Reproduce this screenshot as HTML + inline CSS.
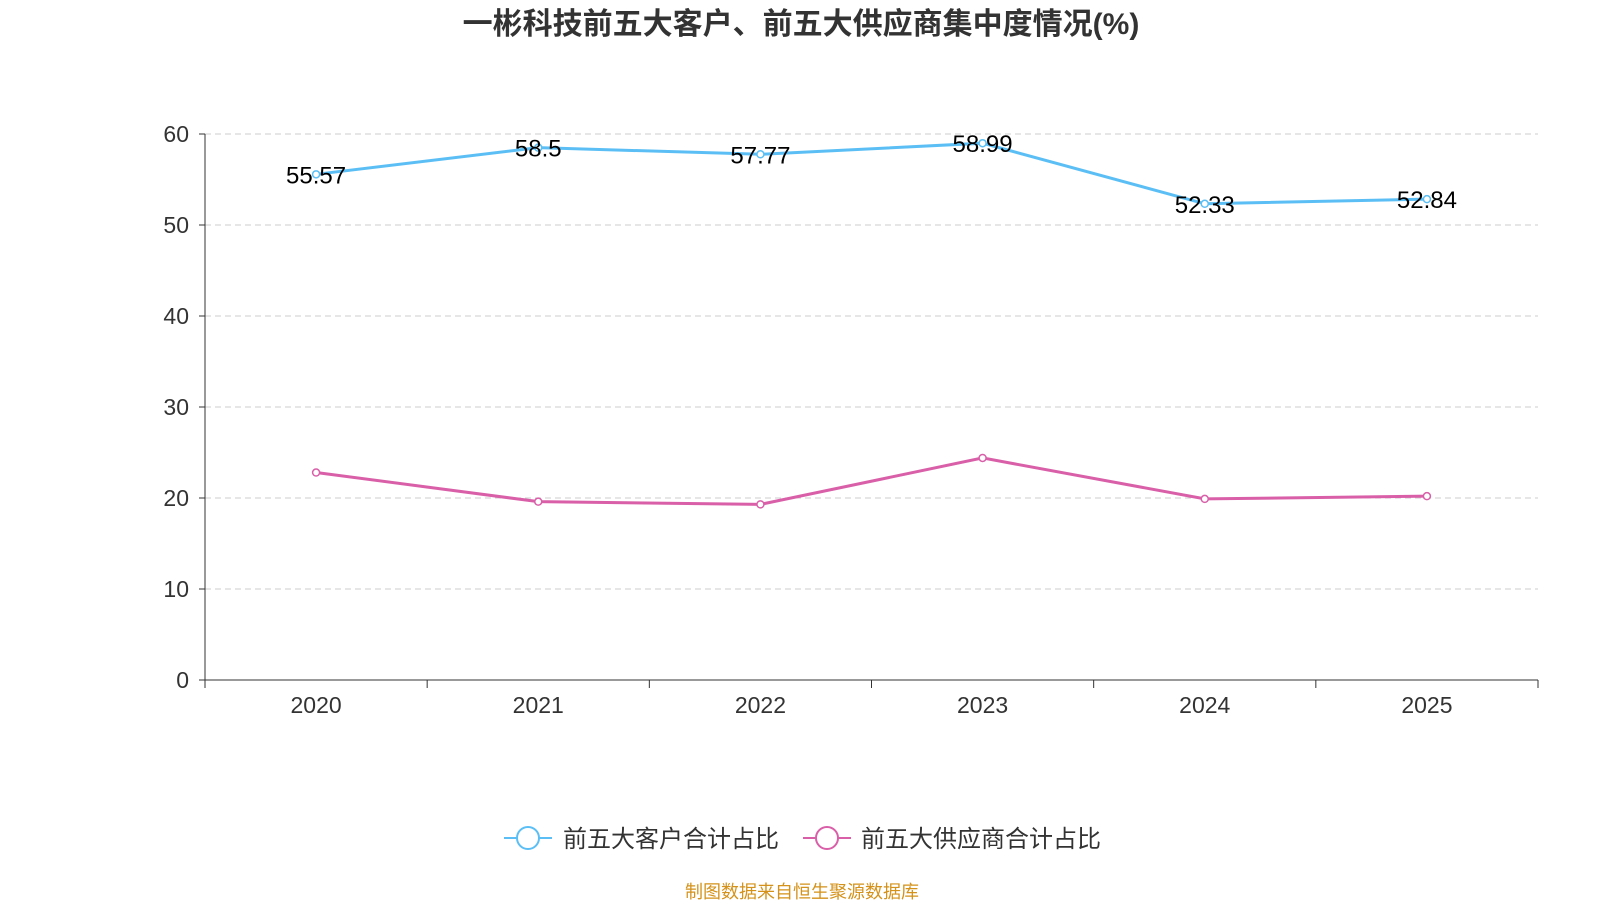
<!DOCTYPE html>
<html><head><meta charset="utf-8"><style>
body{margin:0;background:#fff;width:1600px;height:900px;overflow:hidden;font-family:"Liberation Sans","Noto Sans CJK SC",sans-serif}
</style></head><body>
<svg width="1600" height="900" font-family="'Liberation Sans','Noto Sans CJK SC',sans-serif">
<text x="801" y="34" text-anchor="middle" font-size="30" font-weight="bold" fill="#333">一彬科技前五大客户、前五大供应商集中度情况(%)</text>
<g id="grid"></g><g id="axes"></g><g id="series"></g>
<g>
<g><line x1="504" y1="838" x2="552" y2="838" stroke="#5bbff5" stroke-width="2"/><circle cx="528" cy="838" r="11" fill="#fff" stroke="#5bbff5" stroke-width="2"/><text x="563" y="847" font-size="24" fill="#333">前五大客户合计占比</text></g>
<g><line x1="803" y1="838" x2="851" y2="838" stroke="#d95fa8" stroke-width="2"/><circle cx="827" cy="838" r="11" fill="#fff" stroke="#d95fa8" stroke-width="2"/><text x="861" y="847" font-size="24" fill="#333">前五大供应商合计占比</text></g>
</g>
<text x="802" y="898" text-anchor="middle" font-size="18" fill="#d4921a">制图数据来自恒生聚源数据库</text>
</svg>
<script>
const categories=["2020","2021","2022","2023","2024","2025"];
const customers=[55.57,58.5,57.77,58.99,52.33,52.84];
const suppliers=[22.8,19.6,19.3,24.4,19.9,20.2];
const yTicks=[0,10,20,30,40,50,60];
const NS="http://www.w3.org/2000/svg";
const x0=205,x1=1538,yb=680,yt=134,ymax=60;
const band=(x1-x0)/categories.length;
const X=i=>x0+band*(i+0.5);
const Y=v=>yb-(v/ymax)*(yb-yt);
function mk(t,a,p){const e=document.createElementNS(NS,t);for(const k in a)e.setAttribute(k,a[k]);p.appendChild(e);return e;}
const grid=document.getElementById('grid'),axes=document.getElementById('axes'),ser=document.getElementById('series');
yTicks.forEach(v=>{
 if(v>0){const g=mk('line',{x1:x0,x2:x1,y1:Y(v),y2:Y(v),stroke:'#ccc','stroke-dasharray':'6,4'},grid);
 
 }
 const t=mk('text',{x:189,y:Y(v)+8,'text-anchor':'end','font-size':23,fill:'#333'},axes);t.textContent=v;
 
 
 mk('line',{x1:x0-6,x2:x0,y1:Y(v),y2:Y(v),stroke:'#333'},axes);
});
const ya=mk('line',{x1:x0,x2:x0,y1:yt,y2:yb,stroke:'#333'},axes);


const xa=mk('line',{x1:x0,x2:x1,y1:yb,y2:yb,stroke:'#333'},axes);


for(let i=0;i<=categories.length;i++)mk('line',{x1:x0+band*i,x2:x0+band*i,y1:yb,y2:yb+8,stroke:'#333'},axes);
categories.forEach((c,i)=>{const t=mk('text',{x:X(i),y:713,'text-anchor':'middle','font-size':23,fill:'#333'},axes);t.textContent=c;
 
 });
function draw(vals,color,name,labels){
 const p=mk('polyline',{points:vals.map((v,i)=>X(i)+','+Y(v)).join(' '),fill:'none',stroke:color,'stroke-width':3},ser);
 
 
 vals.forEach((v,i)=>{const c=mk('circle',{cx:X(i),cy:Y(v),r:3.5,fill:'#fff',stroke:color,'stroke-width':1.5},ser);
  
  
  if(labels){const t=mk('text',{x:X(i),y:Y(v)+9,'text-anchor':'middle','font-size':24,fill:'#000'},ser);t.textContent=v;
  
  }});
}
draw(suppliers,'#d95fa8','suppliers',false);
draw(customers,'#5bbff5','customers',true);
</script>
</body></html>
